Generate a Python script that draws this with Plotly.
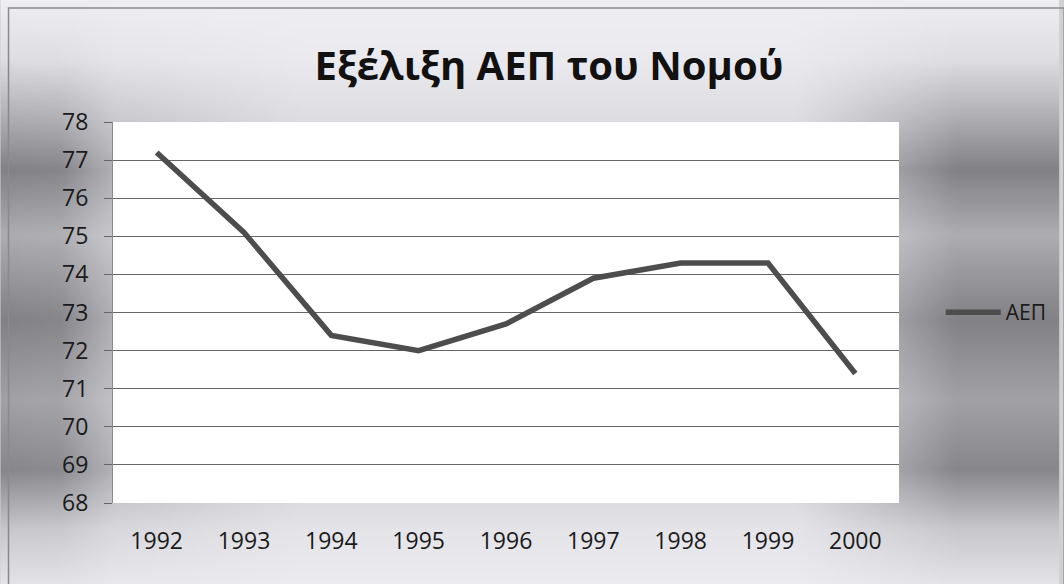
import base64
import struct
import zlib

import numpy as np
import plotly.graph_objects as go

years = ["1992", "1993", "1994", "1995", "1996", "1997", "1998", "1999", "2000"]
aep = [77.2, 75.1, 72.4, 72.0, 72.7, 73.9, 74.3, 74.3, 71.4]
series_name = "ΑΕΠ"
title = "Εξέλιξη ΑΕΠ του Νομού"

W, H = 1064, 584
ML, MR, MT, MB = 113, 161, 122, 81
PW, PH = W - ML - MR, H - MT - MB


def png_data_uri(rgb):
    h, w, _ = rgb.shape
    raw = b"".join(b"\x00" + rgb[i].tobytes() for i in range(h))

    def chunk(tag, data):
        c = struct.pack(">I", len(data)) + tag + data
        return c + struct.pack(">I", zlib.crc32(tag + data) & 0xFFFFFFFF)

    png = (b"\x89PNG\r\n\x1a\n"
           + chunk(b"IHDR", struct.pack(">IIBBBBB", w, h, 8, 2, 0, 0, 0))
           + chunk(b"IDAT", zlib.compress(raw, 9))
           + chunk(b"IEND", b""))
    return "data:image/png;base64," + base64.b64encode(png).decode()


# scanned-looking grey background (darker side edges, banded vertically)
sc = 4
gw, gh = W // sc, H // sc
xs = (np.arange(gw) + 0.5) * sc
ys = (np.arange(gh) + 0.5) * sc
row_f = np.interp(ys, [0, 60, 120, 170, 235, 320, 400, 470, 530, 584],
                  [0.0, 0.15, 0.6, 1.0, 0.6, 1.0, 0.7, 0.95, 0.35, 0.1])
col_f = np.interp(xs, [0, 60, 115, 300, 800, 905, 960, 1064],
                  [1.0, 0.95, 0.5, 0.15, 0.15, 0.7, 1.0, 1.0])
dark = np.outer(row_f, col_f)
base = 238 - 14 * row_f[:, None]
g = base - 95 * dark
img = np.zeros((gh, gw, 3), dtype=np.uint8)
img[..., 0] = np.clip(g, 0, 255)
img[..., 1] = np.clip(g, 0, 255)
img[..., 2] = np.clip(g + 5, 0, 255)

fig = go.Figure()
fig.add_trace(go.Scatter(x=years, y=aep, mode="lines", name=series_name,
                         line=dict(color="#4d4d4d", width=5.5), showlegend=True))

fig.add_layout_image(dict(source=png_data_uri(img), xref="paper", yref="paper",
                          x=-ML / PW, y=1 + MT / PH, sizex=W / PW, sizey=H / PH,
                          xanchor="left", yanchor="top", sizing="stretch", layer="below"))

shapes = [
    dict(type="rect", xref="paper", yref="paper", layer="below",
         x0=0, x1=1, y0=0, y1=1, fillcolor="white", line_width=0),
    dict(type="rect", xref="paper", yref="paper", layer="below",
         x0=(8 - ML) / PW, x1=(W + 5 - ML) / PW, y0=-(MB + 5) / PH, y1=1 + (MT - 8) / PH,
         fillcolor="rgba(0,0,0,0)", line=dict(color="#8a8a8a", width=1.5)),
]

fig.update_layout(
    width=W, height=H,
    margin=dict(l=ML, r=MR, t=MT, b=MB),
    paper_bgcolor="#d0d0d2",
    plot_bgcolor="white",
    title=dict(text=title, x=0.516, xanchor="center", y=1 - 66 / H, yanchor="middle",
               font=dict(family="Open Sans", size=40, color="#111111", weight="bold")),
    font=dict(family="Open Sans", size=23, color="#1a1a1a"),
    xaxis=dict(type="category", range=[-0.5, 8.5], showgrid=False, zeroline=False,
               showline=False, ticks="", ticklabelstandoff=22,
               tickfont=dict(size=23, color="#1a1a1a")),
    yaxis=dict(range=[68, 78], dtick=1, showgrid=True, gridcolor="#666666", gridwidth=1,
               zeroline=False, showline=True, linecolor="#8a8a8a", linewidth=1,
               ticks="outside", ticklen=8, tickcolor="#666666", ticklabelstandoff=11,
               tickfont=dict(size=23, color="#1a1a1a")),
    legend=dict(x=(945 - ML) / PW, xanchor="left", y=0.5, yanchor="middle",
                bgcolor="rgba(0,0,0,0)", itemwidth=55,
                font=dict(size=21, color="#1a1a1a")),
    shapes=shapes,
)

fig.write_html("out.html", config={"displayModeBar": False},
               post_script="document.body.style.margin='0';")
